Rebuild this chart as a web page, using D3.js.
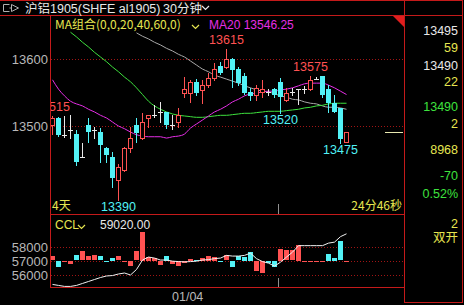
<!DOCTYPE html>
<html>
<head>
<meta charset="utf-8">
<script src="https://cdn.jsdelivr.net/npm/d3@7"></script>
<style>
html, body { margin: 0; padding: 0; background: #000; overflow: hidden; }
svg { display: block; }
text { font-family: "Liberation Sans", "Noto Sans CJK SC", Arial, sans-serif; }
.cjk { font-family: "Noto Sans CJK SC", "Liberation Sans", sans-serif; }
</style>
</head>
<body>
<svg id="chart"></svg>
<script>
(function() {

// 30 minute bars, oldest first
var opens  = [13501,13512,13487,13494,13488,13454,13501,13494,13491,13467,13454,13419,13434,13467,13501,13482,13512,13516,13521,13521,
              13501,13506,13549,13549,13566,13554,13561,13572,13590,13588,13600,13585,13575,13551,13546,13551,13551,13555,13566,13539,
              13551,13555,13555,13555,13570,13575,13555,13534,13527,13476];
var highs  = [13515,13513,13515,13516,13494,13475,13512,13499,13497,13469,13461,13444,13469,13498,13512,13519,13516,13531,13536,13521,
              13516,13527,13573,13568,13570,13569,13579,13594,13596,13615,13601,13588,13579,13557,13561,13569,13555,13557,13572,13557,
              13557,13555,13560,13575,13573,13575,13561,13546,13527,13491];
var lows   = [13488,13485,13484,13482,13442,13454,13476,13482,13446,13446,13409,13390,13433,13461,13476,13481,13499,13513,13506,13497,
              13496,13499,13543,13536,13547,13534,13558,13569,13578,13587,13558,13561,13548,13539,13539,13543,13547,13543,13520,13537,
              13546,13533,13549,13554,13570,13543,13521,13521,13475,13476];
var closes = [13512,13487,13487,13494,13446,13454,13491,13494,13472,13457,13422,13439,13467,13482,13489,13506,13516,13516,13521,13501,
              13501,13516,13555,13566,13549,13561,13572,13585,13579,13600,13584,13564,13549,13545,13557,13555,13551,13546,13543,13549,
              13551,13555,13555,13569,13570,13546,13534,13521,13481,13491];

// moving averages (null = hidden under the legend / off the top)
var ma20 = [13569,13555,13545,13537,13533,13530,13525,13521,13516,13512,13506,13500,13496,13491,13487,13485,13484,13484,13484,13482,
            13484,13485,13488,13497,13503,13509,13515,13521,13525,13530,13536,13540,13545,13548,13549,13551,13552,13552,13554,13555,
            13557,13560,13563,13564,13564,13564,13561,13557,13552,13547];
var ma40 = [null,null,null,13640,13633,13625,13618,13610,13603,13596,13588,13581,13573,13566,13557,13547,13537,13530,13525,13521,
            13518,13516,13515,13514,13513,13513,13514,13515,13516,13516,13517,13518,13519,13519,13520,13521,13522,13522,13522,13523,
            13524,13525,13527,13528,13530,13531,13533,13534,13534,13534];
var ma60 = [null,null,null,null,null,null,null,null,null,null,null,null,null,null,13639,13634,13630,13625,13621,13616,
            13612,13607,13603,13597,13591,13585,13581,13576,13573,13570,13567,13564,13560,13557,13554,13552,13551,13548,13545,13543,
            13540,13539,13536,13534,13533,13530,13528,13528,13527,13525];

// open interest (CCL) line and bars
var ccl = [55310,55240,55170,55170,55240,55380,55520,55660,55800,55910,55940,56050,56120,55980,56370,57040,57250,57180,57040,57040,
           56960,56930,56910,56930,56960,57040,57070,57140,57180,57370,57320,57320,57370,57530,57140,56930,56820,56610,56890,57250,
           57600,58060,58060,58060,58060,58060,58240,58310,58700,58900];
var cclBars = [57300,56600,56950,56790,57370,57650,57300,57370,57300,56950,57210,57300,56910,56670,57650,59060,57260,57190,56740,57330,
               56790,56670,56840,57140,57050,57190,57330,57260,56950,57370,56600,57300,57260,57610,56320,56130,56840,56600,57850,57730,
               57730,58130,56950,56950,56980,56980,57490,57190,58360,56980];
var cclBarRise = [1,0,1,1,0,1,1,1,0,0,0,1,1,1,1,1,1,1,1,0,1,1,1,1,0,1,1,1,0,1,0,0,0,0,1,1,0,0,1,1,1,1,1,1,1,1,0,0,0,1];
var cclBase = 57000;

var priceTicks = [13500, 13600];
var cclTicks = [56000, 57000, 58000];

// high / low marks printed on the chart
var marks = [{i: 0, kind: "high"}, {i: 11, kind: "low"}, {i: 29, kind: "high"},
             {i: 38, kind: "low"}, {i: 43, kind: "high"}, {i: 48, kind: "low"}];

var dayBreaks = [38];
var dateLabels = [{i: 20, text: "01/04"}];

var title = "沪铝1905(SHFE al1905)";
var period = "30分钟";
var maLegend = "MA组合(0,0,20,40,60,0)";
var ma20Label = "MA20 13546.25";
var cclLabel = "CCL";
var cclValue = "59020.00";
var leftNote = "4天";
var rightNote = "24分46秒";

// quote panel on the right
var quoteTexts = ["13495", "59", "13490", "22", "13490", "2", "8968", "-70", "0.52%", "2", "双开"];

// colors
var RED = "#ff5252", CYAN = "#52f2f6", FRAME = "#c41a1a", GRID = "#a01414",
    YEL = "#e6e650", WHITE = "#e8e8e8", GREEN = "#3ee23e", MAG = "#e62ee6", GRAY = "#a8a8a8";

var W = 464, H = 305;
var left = 50, right = 404, top = 15, mainBottom = 214, subBottom = 287;

var svg = d3.select("#chart").attr("width", W).attr("height", H);
svg.append("rect").attr("width", W).attr("height", H).attr("fill", "#000");

var x = d3.scaleBand().domain(d3.range(opens.length)).range([left, left + 6 * opens.length]);
var y = d3.scaleLinear().domain([13368.7, 13665.7]).range([mainBottom, top]);
var y2 = d3.scaleLinear().domain([55128, 60305]).range([subBottom, mainBottom]);
var cx = function(i) { return x(i) + 2.5; };

var defs = svg.append("defs");
defs.append("clipPath").attr("id", "clipMain").append("rect")
    .attr("x", left + 1).attr("y", top + 1).attr("width", right - left - 1).attr("height", mainBottom - top - 1);
defs.append("clipPath").attr("id", "clipSub").append("rect")
    .attr("x", left + 1).attr("y", mainBottom + 1).attr("width", right - left - 1).attr("height", subBottom - mainBottom - 1);

// grid lines
var grid = svg.append("g").attr("stroke", GRID).attr("stroke-dasharray", "1,2");
grid.selectAll(".pg").data(priceTicks).enter().append("line")
    .attr("x1", left + 1).attr("x2", right)
    .attr("y1", function(d) { return Math.round(y(d)) + 0.5; })
    .attr("y2", function(d) { return Math.round(y(d)) + 0.5; });
grid.selectAll(".cg").data(cclTicks).enter().append("line")
    .attr("x1", left + 1).attr("x2", right)
    .attr("y1", function(d) { return Math.round(y2(d)) + 0.5; })
    .attr("y2", function(d) { return Math.round(y2(d)) + 0.5; });

// axis labels on the left
function axisLabels(ticks, scale) {
  svg.append("g").selectAll("text").data(ticks).enter().append("text")
      .attr("x", 48).attr("y", function(d) { return scale(d) + 5; })
      .attr("font-size", "13px").attr("fill", "#b8b8b8").attr("text-anchor", "end")
      .text(function(d) { return d; });
}
axisLabels(priceTicks, y);
axisLabels(cclTicks, y2);

// main chart
var main = svg.append("g").attr("clip-path", "url(#clipMain)");

var line = function(values) {
  return d3.line()
      .defined(function(d) { return d != null; })
      .x(function(d, i) { return cx(i); })
      .y(function(d) { return y(d); })
      .curve(d3.curveMonotoneX)(values);
};
main.append("path").attr("d", line(ma60)).attr("fill", "none").attr("stroke", GRAY).attr("stroke-width", 1);
main.append("path").attr("d", line(ma40)).attr("fill", "none").attr("stroke", GREEN).attr("stroke-width", 1);
main.append("path").attr("d", line(ma20)).attr("fill", "none").attr("stroke", MAG).attr("stroke-width", 1);

var px = function(v) { return Math.round(y(v)); };
var candles = main.selectAll(".candle").data(opens).enter().append("g");
candles.each(function(o, i) {
  var g = d3.select(this), c = closes[i], h = highs[i], l = lows[i];
  var wx = Math.floor(cx(i)) + 0.5;
  if (c === o) {
    g.append("line").attr("x1", wx).attr("x2", wx).attr("y1", px(h)).attr("y2", px(l) + 1).attr("stroke", WHITE);
    g.append("line").attr("x1", x(i)).attr("x2", x(i) + 5)
        .attr("y1", px(o) + 0.5).attr("y2", px(o) + 0.5).attr("stroke", WHITE);
  } else if (c > o) {
    var bt = px(c), bb = px(o);
    g.append("line").attr("x1", wx).attr("x2", wx).attr("y1", px(h)).attr("y2", bt).attr("stroke", RED);
    g.append("line").attr("x1", wx).attr("x2", wx).attr("y1", bb).attr("y2", px(l) + 1).attr("stroke", RED);
    g.append("rect").attr("x", x(i) + 0.5).attr("y", bt + 0.5).attr("width", 4).attr("height", Math.max(bb - bt, 1))
        .attr("fill", "#000").attr("stroke", RED);
  } else {
    var t = px(o), b = px(c);
    g.append("line").attr("x1", wx).attr("x2", wx).attr("y1", px(h)).attr("y2", px(l) + 1).attr("stroke", CYAN);
    g.append("rect").attr("x", x(i)).attr("y", t).attr("width", 5).attr("height", Math.max(b - t, 1)).attr("fill", CYAN);
  }
});

// high / low labels
main.selectAll(".mark").data(marks).enter().append("text")
    .attr("x", function(d) { return cx(d.i); })
    .attr("y", function(d) { return d.kind === "high" ? y(highs[d.i]) - 4.5 : y(lows[d.i]) + 11.5; })
    .attr("text-anchor", "middle").attr("font-size", "12.5px")
    .attr("fill", function(d) { return d.kind === "high" ? RED : CYAN; })
    .text(function(d) { return d.kind === "high" ? highs[d.i] : lows[d.i]; });

// last price marker
svg.append("line").attr("x1", 385).attr("x2", right - 1)
    .attr("y1", px(closes[closes.length - 1]) + 0.5).attr("y2", px(closes[closes.length - 1]) + 0.5)
    .attr("stroke", "#e8e8b0");

// legend
function chevron(g, x0, y0, color) {
  g.append("path").attr("d", "M" + x0 + "," + y0 + " l3.5,3.5 l3.5,-3.5")
      .attr("fill", "none").attr("stroke", color).attr("stroke-width", 1.2);
}
svg.append("text").attr("class", "cjk").attr("x", 55).attr("y", 28.5).attr("font-size", "12px").attr("fill", YEL).text(maLegend);
chevron(svg, 192, 25, YEL);
svg.append("text").attr("x", 209).attr("y", 28.5).attr("font-size", "12px").attr("fill", MAG).text(ma20Label);
svg.append("path").attr("d", "M393,16 L404,16 L404,27 Z").attr("fill", "#e01e1e");

svg.append("text").attr("class", "cjk").attr("x", 52).attr("y", 210).attr("font-size", "12px").attr("fill", YEL).text(leftNote);
svg.append("text").attr("class", "cjk").attr("x", 402).attr("y", 210).attr("text-anchor", "end")
    .attr("font-size", "12px").attr("fill", YEL).text(rightNote);

// sub chart
var sub = svg.append("g").attr("clip-path", "url(#clipSub)");
sub.selectAll(".bar").data(cclBars).enter().append("rect")
    .attr("x", function(d, i) { return x(i); })
    .attr("y", function(d) { return Math.round(Math.min(y2(d), y2(cclBase))); })
    .attr("width", 5)
    .attr("height", function(d) { return Math.max(Math.round(Math.abs(y2(d) - y2(cclBase))), 1); })
    .attr("fill", function(d, i) { return cclBarRise[i] ? RED : CYAN; });
sub.append("path")
    .attr("d", d3.line().x(function(d, i) { return cx(i); }).y(function(d) { return y2(d); })(ccl))
    .attr("fill", "none").attr("stroke", "#f0f0f0").attr("stroke-width", 1);

svg.append("text").attr("x", 55).attr("y", 228.5).attr("font-size", "12px").attr("fill", YEL).text(cclLabel);
chevron(svg, 78, 225, YEL);
svg.append("text").attr("x", 100).attr("y", 228.5).attr("font-size", "12px").attr("fill", WHITE).text(cclValue);

// day break ticks and date
dayBreaks.forEach(function(i) {
  var bx = x(i) + 0.5;
  svg.append("line").attr("x1", bx).attr("x2", bx).attr("y1", mainBottom - 10).attr("y2", mainBottom).attr("stroke", "#909090");
  svg.append("line").attr("x1", bx).attr("x2", bx).attr("y1", subBottom - 9).attr("y2", subBottom).attr("stroke", "#909090");
});
svg.selectAll(".date").data(dateLabels).enter().append("text")
    .attr("x", function(d) { return x(d.i) + 2; }).attr("y", 301)
    .attr("font-size", "12.5px").attr("fill", "#b8b8b8").text(function(d) { return d.text; });

// frames
var frame = svg.append("g").attr("stroke", FRAME).attr("stroke-width", 1);
frame.append("line").attr("x1", 0).attr("x2", 463).attr("y1", 0.5).attr("y2", 0.5);
frame.append("line").attr("x1", 0).attr("x2", 463).attr("y1", top + 0.5).attr("y2", top + 0.5);
frame.append("line").attr("x1", left + 0.5).attr("x2", left + 0.5).attr("y1", top).attr("y2", subBottom + 1);
frame.append("line").attr("x1", left).attr("x2", right).attr("y1", mainBottom + 0.5).attr("y2", mainBottom + 0.5);
frame.append("line").attr("x1", left).attr("x2", right).attr("y1", subBottom + 0.5).attr("y2", subBottom + 0.5);
frame.append("line").attr("x1", right + 0.5).attr("x2", right + 0.5).attr("y1", 0).attr("y2", 303);
frame.append("line").attr("x1", 462.5).attr("x2", 462.5).attr("y1", 0).attr("y2", 303);
frame.append("line").attr("x1", right).attr("x2", 463).attr("y1", 302.5).attr("y2", 302.5);

// title bar
svg.append("path").attr("d", "M9.5,4.5 H3.5 V11.5 H9.5 M9.5,8 H11.5 M11.5,4.5 L18.5,8 L11.5,11.5 Z")
    .attr("fill", "none").attr("stroke", "#b0b0b0");
svg.append("text").attr("x", 25).attr("y", 12.5).attr("font-size", "12.5px").attr("fill", WHITE).text(title);
svg.append("text").attr("x", 163).attr("y", 12.5).attr("font-size", "12.5px").attr("fill", WHITE).text(period);
chevron(svg, 202, 6, WHITE);

// quote panel
var quoteY = [34.5, 51.5, 69.5, 86, 111, 127.5, 153.5, 180, 197.5, 227.5, 241.5];
var quoteColor = [WHITE, YEL, WHITE, YEL, GREEN, YEL, YEL, GREEN, GREEN, YEL, YEL];
svg.append("g").selectAll("text").data(quoteTexts).enter().append("text")
    .attr("x", 458).attr("y", function(d, i) { return quoteY[i]; })
    .attr("text-anchor", "end").attr("font-size", "12.5px")
    .attr("fill", function(d, i) { return quoteColor[i]; })
    .text(function(d) { return d; });

})();
</script>
</body>
</html>
